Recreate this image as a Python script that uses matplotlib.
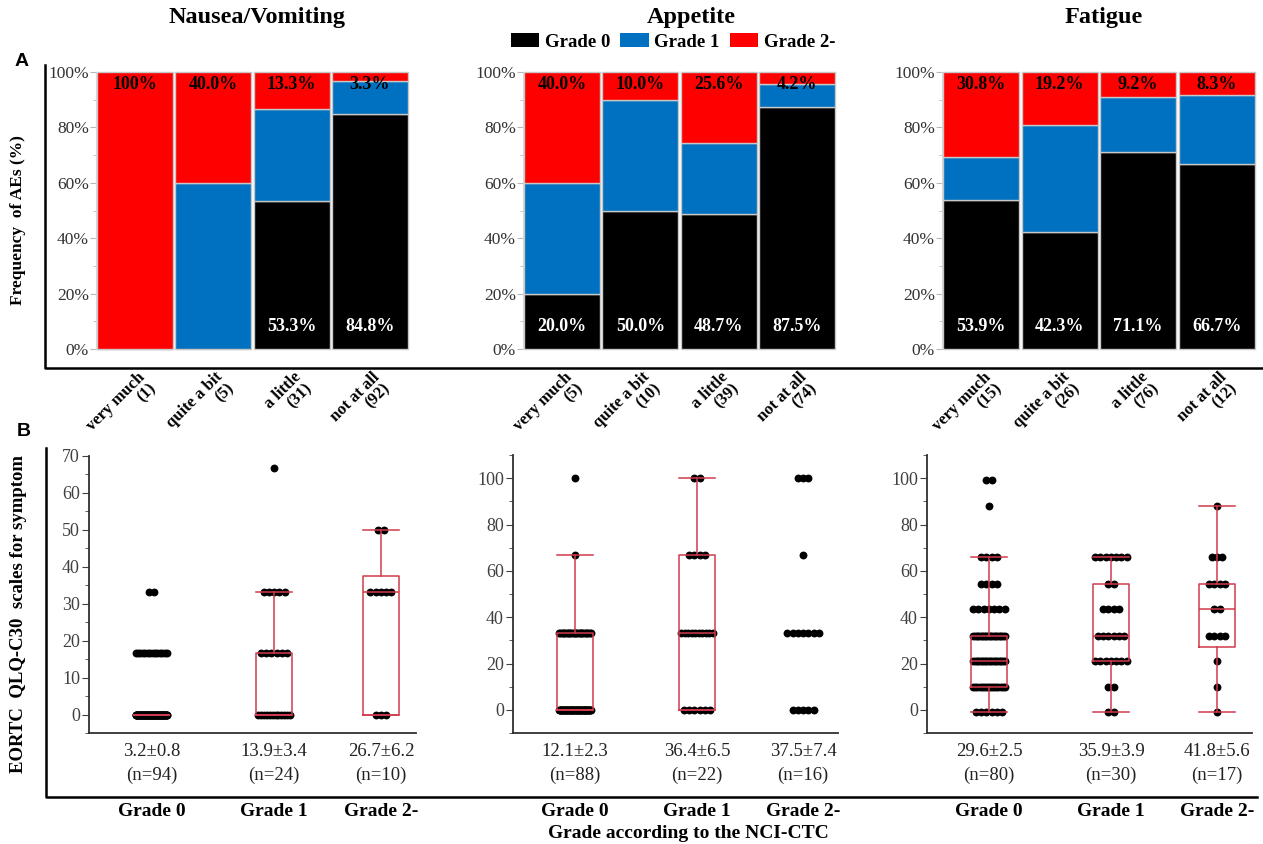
import matplotlib
matplotlib.use('Agg')
import matplotlib.pyplot as plt
import numpy as np
from matplotlib.patches import Patch
from matplotlib.lines import Line2D
from matplotlib.ticker import MultipleLocator
from matplotlib.transforms import blended_transform_factory

W, H = 1263, 844
plt.rcParams['font.family'] = ['Liberation Serif', 'DejaVu Serif']

# ---------------- data ----------------
symptoms = ['Nausea/Vomiting', 'Appetite', 'Fatigue']
categories = ['very much', 'quite a bit', 'a little', 'not at all']
cat_counts = [[1, 5, 31, 92], [5, 10, 39, 74], [15, 26, 76, 12]]
grade0_pct = [[0, 0, 53.3, 84.8], [20.0, 50.0, 48.7, 87.5], [53.9, 42.3, 71.1, 66.7]]
grade1_pct = [[0, 60.0, 33.4, 11.9], [40.0, 40.0, 25.7, 8.3], [15.3, 38.5, 19.7, 25.0]]
grade2_pct = [[100, 40.0, 13.3, 3.3], [40.0, 10.0, 25.6, 4.2], [30.8, 19.2, 9.2, 8.3]]
grade_names = ['Grade 0', 'Grade 1', 'Grade 2-']

mean_score = [[3.2, 13.9, 26.7], [12.1, 36.4, 37.5], [29.6, 35.9, 41.8]]
se_score = [[0.8, 3.4, 6.2], [2.3, 6.5, 7.4], [2.5, 3.9, 5.6]]
n_patients = [[94, 24, 10], [88, 22, 16], [80, 30, 17]]

# score values and number of patients at each value
nausea_values = [[0, 16.7, 33.3], [0, 16.7, 33.3, 66.7], [0, 33.3, 50]]
nausea_counts = [[78, 14, 2], [12, 6, 5, 1], [3, 5, 2]]
appetite_values = [[0, 33.3, 66.7, 100], [0, 33.3, 66.7, 100], [0, 33.3, 66.7, 100]]
appetite_counts = [[59, 27, 1, 1], [6, 10, 4, 2], [5, 7, 1, 3]]
fatigue_values = [[-1, 10, 21, 32, 43.5, 54.5, 66, 88, 99],
                  [-1, 10, 21, 32, 43.5, 54.5, 66],
                  [-1, 10, 21, 32, 43.5, 54.5, 66, 88]]
fatigue_counts = [[6, 16, 20, 20, 7, 4, 4, 1, 2],
                  [2, 2, 7, 6, 4, 2, 7],
                  [1, 1, 1, 4, 2, 4, 3, 1]]

# box stats: (whislo, q1, med, q3, whishi); None = no box drawn
nausea_box = [(0, 0, 0, 0, 0), (0, 0, 0, 16.7, 33.3), (0, 0, 33.3, 37.5, 50)]
appetite_box = [(0, 0, 0, 33.3, 66.7), (0, 0, 33.3, 66.7, 100), None]
fatigue_box = [(-1, 10, 21, 32, 66), (-1, 21, 32, 54.5, 66), (-1, 27, 43.5, 54.5, 88)]

score_values = [nausea_values, appetite_values, fatigue_values]
score_counts = [nausea_counts, appetite_counts, fatigue_counts]
box_stats = [nausea_box, appetite_box, fatigue_box]

# ---------------- figure ----------------
fig = plt.figure(figsize=(W / 100, H / 100), dpi=100)


def fx(px):
    return px / W


def fy(py):
    return 1 - py / H


def add_ax(x0, x1, y0, y1):
    return fig.add_axes([x0 / W, 1 - y1 / H, (x1 - x0) / W, (y1 - y0) / H])


C0, C1, C2 = '#000000', '#0070C0', '#FF0000'
top_x = [(96, 409), (523, 836), (942, 1256)]
title_x = [257, 691, 1104]

for i in range(3):
    ax = add_ax(top_x[i][0], top_x[i][1], 72, 349)
    x = np.arange(4)
    g0 = np.array(grade0_pct[i], float)
    g1 = np.array(grade1_pct[i], float)
    g2 = np.array(grade2_pct[i], float)
    kw = dict(width=0.97, edgecolor='#c8c8c8', linewidth=1.0, clip_on=False)
    ax.bar(x, g0, color=C0, **kw)
    ax.bar(x, g1, bottom=g0, color=C1, **kw)
    ax.bar(x, g2, bottom=g0 + g1, color=C2, **kw)
    ax.set_xlim(-0.5, 3.5)
    ax.set_ylim(0, 100)
    ax.set_yticks(range(0, 101, 20))
    ax.set_yticklabels([f'{v}%' for v in range(0, 101, 20)])
    ax.yaxis.set_minor_locator(MultipleLocator(10))
    ax.tick_params(axis='y', which='both', colors='#b8b8b8', labelcolor='#333333',
                   labelsize=12.5, pad=1)
    ax.tick_params(axis='y', which='major', length=4)
    ax.tick_params(axis='y', which='minor', length=2.5)
    ax.set_xticks([])
    for s in ['top', 'right', 'bottom']:
        ax.spines[s].set_visible(False)
    ax.spines['left'].set_color('#d8d8d8')
    for j in range(4):
        lab = '100%' if g2[j] >= 100 else f'{g2[j]:.1f}%'
        ax.text(j, 95.4, lab, ha='center', va='center', fontsize=13,
                fontweight='bold', color='black')
        if g0[j] > 0:
            ax.text(j, 8.3, f'{g0[j]:.1f}%', ha='center', va='center', fontsize=13,
                    fontweight='bold', color='white')
    tr = blended_transform_factory(ax.transData, fig.transFigure)
    for j in range(4):
        ax.text(j + 0.02, fy(369), f'{categories[j]}\n({cat_counts[i][j]})', transform=tr,
                rotation=45, rotation_mode='anchor', ha='right', va='top',
                multialignment='right', fontsize=12, fontweight='bold', linespacing=0.95)
    fig.text(fx(title_x[i]), fy(18), symptoms[i], ha='center', va='center',
             fontsize=17.5, fontweight='bold')

# legend
handles = [Patch(facecolor=c, edgecolor='none') for c in (C0, C1, C2)]
fig.legend(handles, grade_names, loc='center', bbox_to_anchor=(fx(673), fy(42)),
           ncol=3, frameon=False, prop={'weight': 'bold', 'size': 13.5},
           handlelength=1.5, handleheight=0.7, handletextpad=0.3, columnspacing=0.55,
           borderpad=0.1)

# ---------------- bottom panels ----------------
bot_x = [(89, 416), (513, 838), (927, 1252)]
bot_y = [(456, 733), (455, 733), (455, 733)]
ylims = [(-5, 70), (-10, 110), (-10, 110)]
major_step = [10, 20, 20]
positions = [0, 1, 1.87]
box_w = 0.29
red = '#d03a4c'

for i in range(3):
    ax = add_ax(bot_x[i][0], bot_x[i][1], bot_y[i][0], bot_y[i][1])
    ax.set_xlim(-0.508, 2.156)
    ax.set_ylim(*ylims[i])
    ax.yaxis.set_major_locator(MultipleLocator(major_step[i]))
    ax.yaxis.set_minor_locator(MultipleLocator(major_step[i] / 2))
    if i == 0:
        ax.set_yticks(range(0, 71, 10))
    ax.tick_params(axis='y', which='both', colors='#404040', labelsize=13, pad=1.5)
    ax.tick_params(axis='y', which='major', length=5)
    ax.tick_params(axis='y', which='minor', length=3)
    ax.set_xticks([])
    for s in ['top', 'right']:
        ax.spines[s].set_visible(False)
    for s in ['left', 'bottom']:
        ax.spines[s].set_color('#303030')
        ax.spines[s].set_linewidth(1.3)

    for g in range(3):
        p = positions[g]
        for v, c in zip(score_values[i][g], score_counts[i][g]):
            w = min(c - 1, 6) * 0.043
            xs = p + (np.linspace(-w / 2, w / 2, c) if c > 1 else np.array([0.0]))
            ax.scatter(xs, np.full(c, v), s=32, color='black', zorder=3,
                       clip_on=False, linewidths=0)
        st = box_stats[i][g]
        if st is not None:
            lo, q1, med, q3, hi = st
            ax.bxp([dict(whislo=lo, q1=q1, med=med, q3=q3, whishi=hi, fliers=[])],
                   positions=[p], widths=box_w, capwidths=box_w, showfliers=False,
                   boxprops=dict(color=red, lw=1.1), whiskerprops=dict(color=red, lw=1.1),
                   capprops=dict(color=red, lw=1.1), medianprops=dict(color=red, lw=1.1),
                   manage_ticks=False, zorder=4)
        tr = blended_transform_factory(ax.transData, fig.transFigure)
        ax.text(p, fy(751), f'{mean_score[i][g]}\u00b1{se_score[i][g]}', transform=tr,
                ha='center', va='center', fontsize=13.5, color='#222222')
        ax.text(p, fy(775), f'(n={n_patients[i][g]})', transform=tr,
                ha='center', va='center', fontsize=13.5, color='#222222')
        ax.text(p, fy(811), grade_names[g], transform=tr, ha='center', va='center',
                fontsize=14, fontweight='bold')

fig.text(fx(688), fy(833), 'Grade according to the NCI-CTC', ha='center', va='center',
         fontsize=14, fontweight='bold')

# axis titles and panel letters
fig.text(fx(18), fy(220), 'Frequency  of AEs (%)', rotation=90, ha='center', va='center',
         fontsize=12.5, fontweight='bold')
fig.text(fx(19), fy(614), 'EORTC  QLQ-C30  scales for symptom', rotation=90, ha='center',
         va='center', fontsize=13.5, fontweight='bold')
fig.text(fx(22), fy(61), 'A', ha='center', va='center', fontsize=14, fontweight='bold',
         family=['Liberation Sans', 'DejaVu Sans'])
fig.text(fx(24), fy(431), 'B', ha='center', va='center', fontsize=14, fontweight='bold',
         family=['Liberation Sans', 'DejaVu Sans'])

# section frames
fig.add_artist(Line2D([fx(45), fx(45), fx(1263)], [fy(65), fy(368), fy(368)],
                      color='black', lw=1.8, transform=fig.transFigure))
fig.add_artist(Line2D([fx(46), fx(46), fx(1257)], [fy(448), fy(797), fy(797)],
                      color='black', lw=1.8, transform=fig.transFigure))

fig.savefig('out.png', dpi=100)
